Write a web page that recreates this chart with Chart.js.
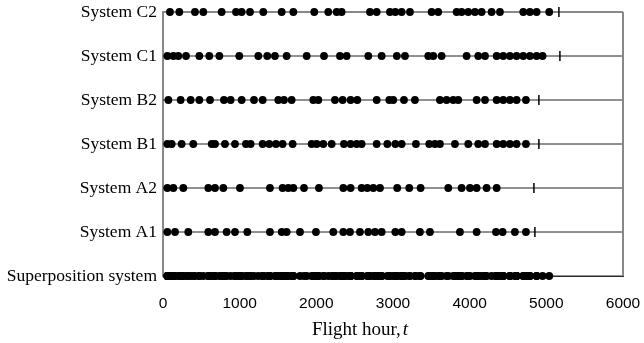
<!DOCTYPE html>
<html>
<head>
<meta charset="utf-8">
<script src="https://cdn.jsdelivr.net/npm/chart.js@4/dist/chart.umd.min.js"></script>
<style>
  html, body { margin: 0; padding: 0; background: #fff; }
</style>
</head>
<body>
<canvas id="chart" width="644" height="343"></canvas>
<script>
// rows from bottom to top
const rowLabels = ['Superposition system', 'System A1', 'System A2', 'System B1', 'System B2', 'System C1', 'System C2'];
const xTicks = [0, 1000, 2000, 3000, 4000, 5000, 6000];

// failure times (flight hours)
const sysA1 = [57, 157, 330, 591, 678, 830, 939, 1100, 1395, 1548, 1613, 1787, 1995, 2221, 2352, 2439, 2569, 2678, 2765, 2852, 3030, 3113, 3351, 3482, 3873, 4091, 4343, 4430, 4590, 4734];
const sysA2 = [57, 135, 265, 591, 678, 787, 1004, 1395, 1560, 1634, 1700, 1839, 2034, 2352, 2447, 2591, 2665, 2743, 2830, 3055, 3212, 3360, 3721, 3895, 4004, 4091, 4221, 4352];
const sysB1 = [57, 113, 243, 395, 635, 678, 808, 939, 1082, 1143, 1300, 1386, 1473, 1560, 1691, 1939, 2004, 2091, 2200, 2360, 2447, 2526, 2591, 2787, 2926, 3030, 3113, 3299, 3473, 3547, 3612, 3808, 3982, 4112, 4200, 4352, 4438, 4525, 4612, 4734];
const sysB2 = [70, 230, 361, 474, 613, 795, 882, 1026, 1187, 1300, 1504, 1578, 1678, 1960, 2026, 2243, 2343, 2447, 2534, 2787, 2952, 3003, 3143, 3286, 3612, 3699, 3786, 3851, 4091, 4200, 4352, 4438, 4525, 4612, 4734];
const sysC1 = [57, 135, 200, 300, 474, 604, 735, 995, 1243, 1360, 1460, 1613, 1874, 2100, 2308, 2395, 2678, 2852, 3050, 3156, 3460, 3525, 3634, 3960, 4112, 4200, 4352, 4438, 4525, 4612, 4699, 4786, 4873, 4951];
const sysC2 = [91, 213, 417, 526, 765, 952, 1026, 1135, 1308, 1548, 1700, 1973, 2156, 2265, 2330, 2700, 2787, 2960, 3030, 3113, 3221, 3504, 3590, 3830, 3895, 3982, 4069, 4156, 4286, 4395, 4699, 4786, 4873, 5038];

// end of observation for A1..C2
const endTimes = [4851, 4838, 4903, 4903, 5177, 5164];

// superposition system = all failures of the six systems merged
const superpos = [].concat(sysA1, sysA2, sysB1, sysB2, sysC1, sysC2).sort((a, b) => a - b);
const rows = [superpos, sysA1, sysA2, sysB1, sysB2, sysC1, sysC2];

const datasets = [];

rows.forEach((times, i) => {
    datasets.push({
        type: 'scatter',
        data: times.map(t => ({ x: t, y: i })),
        pointRadius: 3.9,
        pointBackgroundColor: '#000',
        pointBorderWidth: 0,
        clip: false,
        order: 0
    });
});

endTimes.forEach((t, i) => {
    datasets.push({
        type: 'scatter',
        data: [{ x: t, y: i + 1 }],
        pointStyle: 'line',
        rotation: 90,
        pointRadius: 5,
        borderColor: '#000',
        pointBorderWidth: 1.5,
        clip: false,
        order: 1
    });
});

rows.forEach((times, i) => {
    datasets.push({
        type: 'line',
        data: [{ x: xTicks[0], y: i }, { x: xTicks[xTicks.length - 1], y: i }],
        borderColor: i === rows.length - 1 ? '#888' : '#222',
        borderWidth: i === rows.length - 1 ? 2 : 1,
        pointRadius: 0,
        clip: false,
        order: 2
    });
});

// right side of the frame + axis title with italic t
const extras = {
    id: 'extras',
    afterDatasetsDraw(chart) {
        const { ctx, chartArea: a } = chart;
        ctx.save();
        ctx.strokeStyle = '#888';
        ctx.lineWidth = 2;
        ctx.beginPath();
        ctx.moveTo(a.right, a.bottom);
        ctx.lineTo(a.right, a.top);
        ctx.stroke();

        const part1 = 'Flight hour,';
        const part2 = 't';
        const f1 = '19px "Liberation Serif", "Times New Roman", serif';
        const f2 = 'italic 19px "Liberation Serif", "Times New Roman", serif';
        ctx.font = f1;
        const w1 = ctx.measureText(part1).width;
        ctx.font = f2;
        const w2 = ctx.measureText(part2).width;
        const x0 = 360 - (w1 + w2 + 2) / 2;
        ctx.fillStyle = '#000';
        ctx.textBaseline = 'alphabetic';
        ctx.textAlign = 'left';
        ctx.font = f1;
        ctx.fillText(part1, x0, 335);
        ctx.font = f2;
        ctx.fillText(part2, x0 + w1 + 2, 335);
        ctx.restore();
    }
};

new Chart(document.getElementById('chart'), {
    type: 'scatter',
    data: { datasets },
    options: {
        responsive: false,
        animation: false,
        devicePixelRatio: 1,
        layout: { padding: { left: 0, right: 21, top: 12, bottom: 0 } },
        plugins: { legend: { display: false }, tooltip: { enabled: false } },
        scales: {
            x: {
                type: 'linear',
                min: 0,
                max: 6000,
                afterBuildTicks: s => { s.ticks = xTicks.map(v => ({ value: v })); },
                afterFit: s => { s.height = 67; s.paddingRight = 0; s.paddingLeft = 0; },
                grid: { display: false, drawTicks: true, tickLength: 6, tickColor: '#333' },
                border: { display: true, color: '#333', width: 1 },
                ticks: {
                    color: '#000',
                    padding: 12,
                    callback: v => String(v),
                    font: { family: 'Liberation Sans, Arial, sans-serif', size: 15.5 }
                },
                title: { display: false }
            },
            y: {
                type: 'linear',
                min: 0,
                max: 6,
                afterBuildTicks: s => { s.ticks = rowLabels.map((l, i) => ({ value: i })); },
                afterFit: s => { s.width = 163; s.paddingTop = 0; s.paddingBottom = 0; },
                grid: { display: false, drawTicks: false },
                border: { display: true, color: '#888', width: 2 },
                ticks: {
                    color: '#000',
                    padding: 6,
                    callback: v => rowLabels[v],
                    font: { family: 'Liberation Serif, Times New Roman, serif', size: 17.5 }
                }
            }
        }
    },
    plugins: [extras]
});
</script>
</body>
</html>
